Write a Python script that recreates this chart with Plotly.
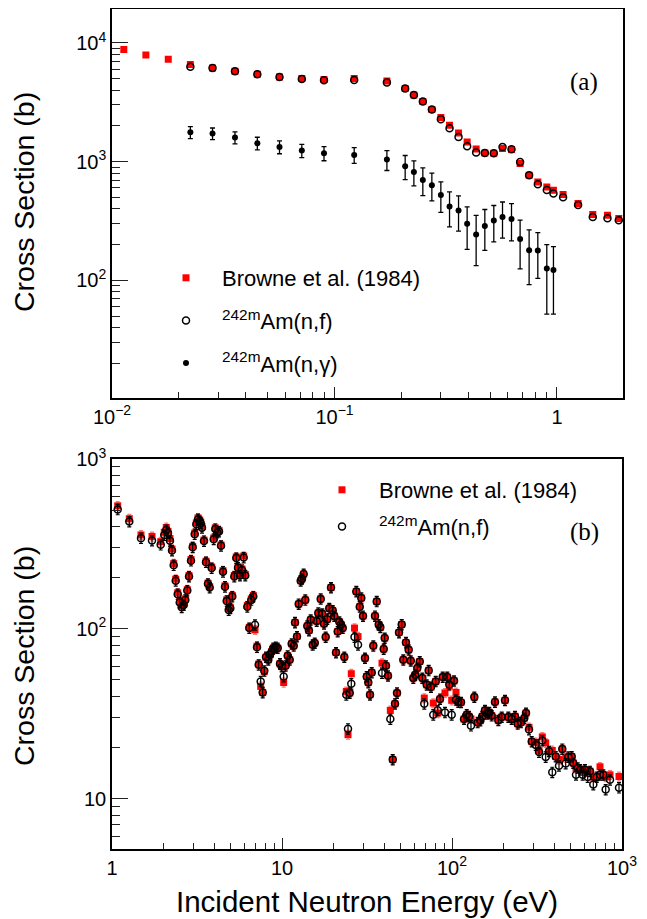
import plotly.graph_objects as go
import math

# ---------------- Panel (a) data ----------------
a_browne_e = [0.0113, 0.0142, 0.0179, 0.0225, 0.0283, 0.0357, 0.045, 0.0566, 0.0713, 0.0897,
              0.1226, 0.172, 0.2078, 0.2274, 0.2495, 0.2739, 0.3006, 0.3289, 0.361, 0.3946,
              0.4331, 0.4739, 0.520, 0.569, 0.6245, 0.6827, 0.7494, 0.820, 0.900, 0.964,
              1.065, 1.244, 1.448, 1.686, 1.895]
a_browne_xs = [8800, 7930, 7300, 6580, 6150, 5780, 5450, 5170, 5010, 4920,
               5020, 4786, 4128, 3647, 3208, 2748, 2352, 2026, 1745, 1466,
               1279, 1184, 1177, 1289, 1264, 964, 768, 675, 612, 574,
               528, 444, 358, 353, 332]

a_fis_e = [0.0225, 0.0283, 0.0357, 0.045, 0.0566, 0.0713, 0.0897,
           0.1226, 0.172, 0.2078, 0.2274, 0.2495, 0.2739, 0.3006, 0.3289, 0.361, 0.3946,
           0.4331, 0.4739, 0.520, 0.569, 0.6245, 0.6827, 0.7494, 0.820, 0.900, 0.964,
           1.065, 1.244, 1.448, 1.686, 1.895]
a_fis_xs = [6290, 6150, 5780, 5450, 5170, 4970, 4850,
            4870, 4638, 4128, 3647, 3208, 2748, 2276, 1912, 1615, 1348,
            1193, 1184, 1177, 1330, 1272, 994, 768, 645, 577, 539,
            501, 432, 342, 333, 321]

a_gam_e = [0.0225, 0.0283, 0.0357, 0.045, 0.0566, 0.0713, 0.0897,
           0.1226, 0.172, 0.2078, 0.2274, 0.2495, 0.2739, 0.3006, 0.3289, 0.361, 0.3946,
           0.4331, 0.4739, 0.520, 0.569, 0.6245, 0.6827, 0.7494, 0.820, 0.900, 0.964]
a_gam_xs = [1769, 1725, 1596, 1429, 1330, 1240, 1177,
            1139, 1041, 915, 819, 701, 633, 524, 419, 387, 299,
            243, 287, 319, 342, 329, 223, 179, 178, 126, 122]
a_gam_err = [205, 195, 185, 175, 165, 160, 160,
             173, 199, 211, 195, 184, 166, 151, 137, 127, 117,
             110, 108, 108, 115, 114, 98, 87, 74, 74, 70]

# ---------------- Panel (b) data ----------------
b_e = [1.080, 1.264, 1.481, 1.719, 1.934, 2.030, 2.086, 2.135, 2.193, 2.254,
       2.306, 2.370, 2.435, 2.502, 2.570, 2.641, 2.700, 2.773, 2.838, 2.916,
       2.983, 3.066, 3.133, 3.206, 3.281, 3.326, 3.384, 3.477, 3.573, 3.669,
       3.755, 3.858, 3.965, 4.052, 4.164, 4.261, 4.378, 4.498, 4.621, 4.728,
       4.859, 4.965, 5.101, 5.241, 5.385, 5.510, 5.661, 5.817, 5.952, 6.082,
       6.250, 6.421, 6.597, 6.779, 6.937, 7.127, 7.293, 7.494, 7.700, 7.869,
       8.052, 8.307, 8.500, 8.698, 8.888, 9.182, 9.434, 9.732, 9.959, 10.23,
       10.51, 10.80, 11.10, 11.40, 11.72, 11.93, 12.25, 12.54, 12.88, 13.11,
       13.41, 13.71, 14.09, 14.41, 14.75, 15.16, 15.58, 16.00, 16.35, 16.89,
       17.26, 17.67, 18.07, 18.47, 18.97, 19.42, 19.87, 20.30, 20.78, 21.26,
       21.74, 22.24, 22.76, 23.26, 23.89, 24.45, 25.02, 25.56, 26.71, 27.36,
       28.00, 28.66, 29.28, 29.96, 30.78, 31.50, 32.19, 32.94, 33.71, 34.45,
       35.25, 36.07, 37.06, 37.87, 38.75, 39.65, 40.19, 40.91, 42.03, 43.37,
       44.80, 46.21, 47.48, 48.78, 50.60, 51.71, 53.6, 55.6, 57.2, 59.2,
       60.8, 62.5, 64.6, 66.9, 68.7, 71.0, 72.9, 75.2, 77.6, 80.2,
       82.4, 85.0, 88.2, 90.9, 93.8, 96.4, 99.6, 102.8, 105.6, 108.9,
       113.0, 117.7, 122.1, 125.9, 129.3, 135.3, 141.6, 146.7, 150.7, 156.4,
       161.3, 165.7, 171.2, 179.0, 187.3, 196.1, 205.0, 214.5, 224.5, 234.8,
       243.5, 254.6, 266.3, 272.5, 283.8, 294.4, 310.8, 325.0, 339.8, 355.8,
       372.1, 389.0, 407.4, 426.0, 445.5, 466.5, 483.2, 505.9, 517.0, 536.3,
       548.8, 566.1, 587.2, 605.9, 628.3, 648.3, 678.0, 710.0, 742.3, 776.2,
       801.8, 850.0, 960.2]
b_browne_xs = [530, 445, 357, 350, 326, 370, 395, 375, 340, 295,
               242, 196, 163, 145, 136, 140, 150, 170, 206, 256,
               306, 366, 420, 450, 437, 425, 400, 333, 250, 186,
               177, 231, 342, 393, 374, 380, 312, 220, 179, 148,
               131, 134, 157, 206, 265, 232, 209, 225, 268, 209,
               137, 102, 150, 157, 98.6, 79, 62, 45.8, 42.2, 56,
               68, 65.7, 70.3, 73.5, 77, 78, 77, 62.3, 60, 48.3,
               60.6, 69.4, 65.7, 81.6, 79.4, 109, 90.1, 140, 192, 197,
               210, 148, 104, 97.7, 113, 80.5, 82.4, 111, 124, 150,
               122.5, 107, 89.4, 114, 132, 175, 128, 119, 72.5, 96.4,
               110, 106, 101, 68.2, 42.8, 23.8, 41.9, 54.4, 101, 166,
               90, 135, 152, 119, 67.2, 52.4, 48.3, 40.9, 55.3, 79.4,
               119, 145, 106, 102, 62.8, 76, 88.2, 60.6, 52.9, 33.1,
               17.0, 36.2, 41.9, 95.1, 106, 65.7, 83.1, 75.2, 64.8, 51.3,
               53.6, 58.7, 64.2, 51.3, 39.1, 46.8, 56.9, 45.4, 36.5, 49.0,
               31.9, 38.6, 52.0, 41.9, 52.0, 46, 37.9, 49.4, 42.2, 37.1,
               36.9, 29.4, 31.2, 30.5, 29.5, 39.6, 28.1, 28.8, 30.5, 33.1,
               31.6, 32.2, 30.8, 37.1, 28.9, 30.2, 37.9, 30.2, 29.4, 30.5,
               27.6, 28.1, 29.8, 31.9, 26.3, 21.7, 21.4, 19.2, 23.1, 21.3,
               19.0, 19.2, 17.7, 17.0, 19.6, 17.4, 17.6, 17.7, 16.2, 15.1,
               15.2, 14.8, 14.8, 14.8, 14.4, 14.5, 13.4, 13.4, 15.4, 13.8,
               13.4, 13.8, 13.5]
b_fis_xs = [505, 428, 342, 331, 313, 357, 382, 366, 330, 289,
            237, 192, 160, 143, 134, 138, 148, 168, 203, 252,
            302, 361, 413, 442, 430, 419, 394, 329, 247, 184,
            175, 228, 337, 387, 369, 374, 308, 217, 177, 146,
            129, 132, 155, 203, 261, 229, 206, 222, 263, 206,
            135, 101, 148, 155, 105.6, 78, 61.4, 49, 42.2, 56.6,
            68.2, 65.7, 70.3, 73.5, 77, 78, 77, 62.3, 60, 52.4,
            60.6, 69.4, 65.7, 81.6, 79.4, 109, 90.1, 140, 192, 197,
            210, 148, 104, 97.7, 113, 80.5, 82.4, 111, 124, 150,
            122.5, 107, 89.4, 114, 132, 175, 128, 119, 72.5, 96.4,
            110, 106, 101, 68.2, 40.9, 25.8, 41.9, 47.5, 89.4, 166,
            80.5, 135, 152, 119, 67.2, 52.4, 48.3, 40.9, 55.3, 79.4,
            119, 145, 106, 102, 54.9, 76, 88.2, 60.6, 52.9, 29.4,
            17.0, 36.2, 41.9, 95.1, 106, 65.7, 83.1, 75.2, 64.8, 51.3,
            53.6, 58.7, 64.2, 51.3, 36.2, 46.8, 56.9, 45.4, 31.2, 49.0,
            33.1, 38.6, 52.0, 32.2, 52.0, 47, 31.2, 49.4, 38.2, 37.1,
            36.9, 29.4, 31.2, 30.5, 26.9, 39.6, 28.1, 28.8, 30.5, 33.1,
            31.6, 32.2, 30.8, 37.1, 28.9, 30.2, 37.9, 30.2, 29.4, 30.5,
            27.6, 28.1, 29.8, 31.9, 25.5, 21.7, 20.7, 18.8, 22.0, 17.6,
            19.0, 14.3, 17.7, 15.6, 19.6, 16.1, 17.6, 17.7, 16.2, 13.8,
            15.2, 14.8, 13.8, 14.8, 13.4, 14.5, 12.1, 13.4, 13.8, 13.8,
            11.3, 12.9, 11.6]
b_err_pct = 6  # relative uncertainty shown as error bars (%)

# ---------------- ticks ----------------
a_x_ticks = [0.01, 0.1, 1]
a_x_ticktext = ["10<sup>\u22122</sup>", "10<sup>\u22121</sup>", "1"]
a_x_minor = [0.02, 0.03, 0.04, 0.05, 0.06, 0.07, 0.08, 0.09,
             0.2, 0.3, 0.4, 0.5, 0.6, 0.7, 0.8, 0.9]
a_y_ticks = [100, 1000, 10000]
a_y_ticktext = ["10<sup>2</sup>", "10<sup>3</sup>", "10<sup>4</sup>"]
a_y_minor = [20, 30, 40, 50, 60, 70, 80, 90, 200, 300, 400, 500, 600, 700, 800, 900,
             2000, 3000, 4000, 5000, 6000, 7000, 8000, 9000]
b_x_ticks = [1, 10, 100, 1000]
b_x_ticktext = ["1", "10", "10<sup>2</sup>", "10<sup>3</sup>"]
b_x_minor = [2, 3, 4, 5, 6, 7, 8, 9, 20, 30, 40, 50, 60, 70, 80, 90,
             200, 300, 400, 500, 600, 700, 800, 900]
b_y_ticks = [10, 100, 1000]
b_y_ticktext = ["10", "10<sup>2</sup>", "10<sup>3</sup>"]
b_y_minor = [6, 7, 8, 9, 20, 30, 40, 50, 60, 70, 80, 90, 200, 300, 400, 500, 600, 700, 800, 900]

# The page body has an 8 px margin, so the figure is drawn 8 px in from the window edge.
OFF = 8
W, H = 647 - OFF, 919 - OFF
FONT = "Liberation Sans, Arial, Helvetica, sans-serif"
RED = "#ff0000"

fig = go.Figure()

# Panel (a)
fig.add_trace(go.Scatter(x=a_browne_e, y=a_browne_xs, mode="markers", name="Browne et al. (1984)",
                         marker=dict(symbol="square", size=7, color=RED),
                         xaxis="x", yaxis="y", legend="legend", legendgroup="a1"))
fig.add_trace(go.Scatter(x=a_fis_e, y=a_fis_xs, mode="markers", name="<sup>242m</sup>Am(n,f)",
                         marker=dict(symbol="circle-open", size=7, color="black", line=dict(width=1.5)),
                         xaxis="x", yaxis="y", legend="legend", legendgroup="a2"))
fig.add_trace(go.Scatter(x=a_gam_e, y=a_gam_xs, mode="markers", name="<sup>242m</sup>Am(n,\u03b3)",
                         marker=dict(symbol="circle", size=6, color="black"),
                         error_y=dict(type="data", array=a_gam_err, color="black", thickness=1.3, width=2.5),
                         xaxis="x", yaxis="y", legend="legend", legendgroup="a3"))

# Panel (b)
fig.add_trace(go.Scatter(x=b_e, y=b_browne_xs, mode="markers", name="Browne et al. (1984)",
                         marker=dict(symbol="square", size=7, color=RED),
                         error_y=dict(type="percent", value=b_err_pct, color="rgba(255,60,60,0.7)",
                                      thickness=1.2, width=2),
                         xaxis="x2", yaxis="y2", legend="legend2", legendgroup="b1"))
fig.add_trace(go.Scatter(x=b_e, y=b_fis_xs, mode="markers", name="<sup>242m</sup>Am(n,f)",
                         marker=dict(symbol="circle-open", size=7, color="black", line=dict(width=1.5)),
                         error_y=dict(type="percent", value=b_err_pct + 1, color="black",
                                      thickness=1.2, width=2),
                         xaxis="x2", yaxis="y2", legend="legend2", legendgroup="b2"))


def px2x(px):
    return min(1.0, max(0.0, (px - OFF) / W))


def py2y(py):
    return min(1.0, max(0.0, 1 - (py - OFF) / H))


axis_common = dict(type="log", showgrid=False, zeroline=False, showline=True, linecolor="black",
                   linewidth=1.5, mirror=True, ticks="inside", tickcolor="#222", tickwidth=1,
                   automargin=False,
                   tickfont=dict(family=FONT, size=20, color="black"), tickmode="array")

fig.update_layout(
    template="none",
    width=W, height=H, paper_bgcolor="white", plot_bgcolor="white",
    margin=dict(l=0, r=0, t=0, b=0, pad=0, autoexpand=False),
    xaxis=dict(axis_common, domain=[px2x(112), px2x(623)], anchor="y",
               range=[-2, math.log10(1.98)], tickvals=a_x_ticks, ticktext=a_x_ticktext, ticklen=11,
               minor=dict(tickvals=a_x_minor, ticks="inside", ticklen=6, tickcolor="#222")),
    yaxis=dict(axis_common, domain=[py2y(398), py2y(8.5)], anchor="x",
               range=[math.log10(10.2), math.log10(19500)], tickvals=a_y_ticks, ticktext=a_y_ticktext,
               ticklen=16, minor=dict(tickvals=a_y_minor, ticks="inside", ticklen=8, tickcolor="#222")),
    xaxis2=dict(axis_common, domain=[px2x(112), px2x(622)], anchor="y2",
                range=[0, 3], tickvals=b_x_ticks, ticktext=b_x_ticktext, ticklen=11,
                minor=dict(tickvals=b_x_minor, ticks="inside", ticklen=6, tickcolor="#222")),
    yaxis2=dict(axis_common, domain=[py2y(849), py2y(459)], anchor="x2",
                range=[math.log10(5.05), 3], tickvals=b_y_ticks, ticktext=b_y_ticktext,
                ticklen=16, minor=dict(tickvals=b_y_minor, ticks="inside", ticklen=8, tickcolor="#222")),
    legend=dict(x=px2x(150), y=py2y(257), xanchor="left", yanchor="top", bgcolor="rgba(0,0,0,0)",
                font=dict(family=FONT, size=22, color="black"), itemwidth=62, tracegroupgap=11,
                traceorder="grouped"),
    legend2=dict(x=px2x(305), y=py2y(469), xanchor="left", yanchor="top", bgcolor="rgba(0,0,0,0)",
                 font=dict(family=FONT, size=22, color="black"), itemwidth=64, tracegroupgap=5,
                 traceorder="grouped"),
    showlegend=True,
)

annots = [
    dict(text="Cross Section (b)", x=px2x(24), y=py2y(202), textangle=-90, size=28.5),
    dict(text="Cross Section (b)", x=px2x(24), y=py2y(656), textangle=-90, size=28.5),
    dict(text="Incident Neutron Energy (eV)", x=px2x(367), y=py2y(901), textangle=0, size=29.5),
]
for a in annots:
    sz = a.pop("size")
    fig.add_annotation(xref="paper", yref="paper", showarrow=False, xanchor="center", yanchor="middle",
                       font=dict(family=FONT, size=sz, color="black"), **a)
for txt, yy in [("(a)", 82), ("(b)", 532)]:
    fig.add_annotation(xref="paper", yref="paper", showarrow=False, text=txt, x=px2x(584), y=py2y(yy),
                       xanchor="center", yanchor="middle",
                       font=dict(family="Liberation Serif, Times New Roman, serif", size=25, color="black"))

fig.write_html("out.html")
